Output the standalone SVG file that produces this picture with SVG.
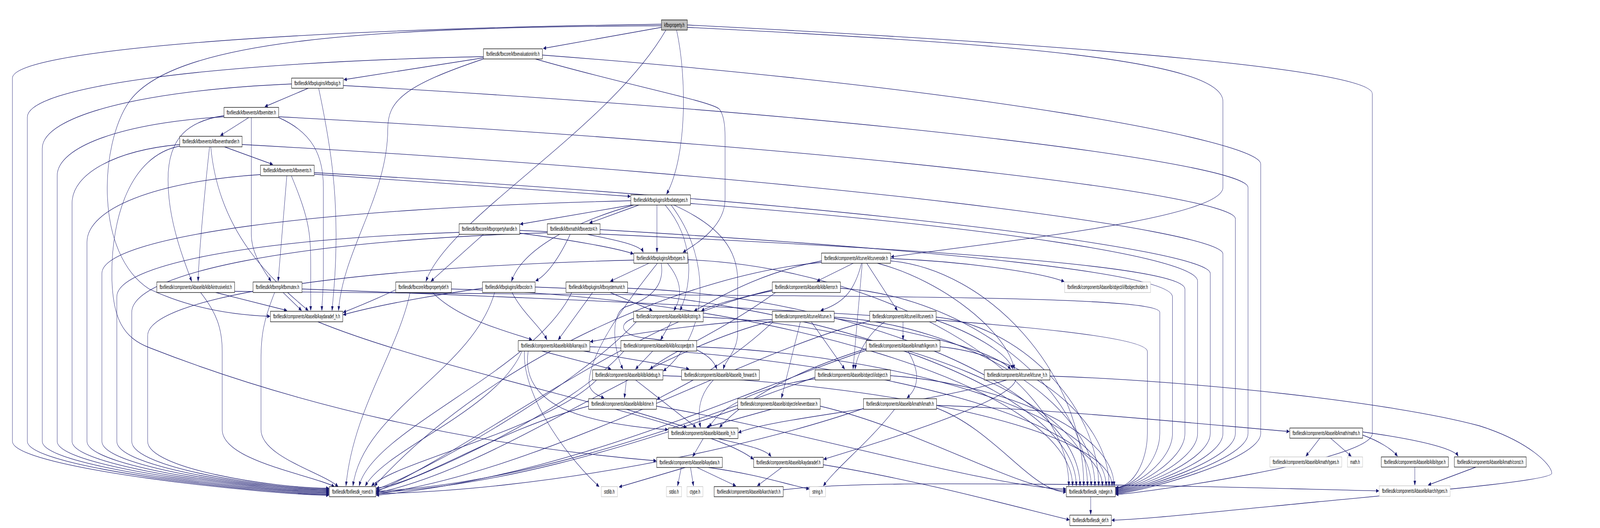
<svg xmlns="http://www.w3.org/2000/svg" width="6437" height="1352" viewBox="0 0 6437 1352" preserveAspectRatio="none">
<style>
@media (max-width: 6400px) { svg { width: 100vw; height: 100vh; } }
.n rect{fill:#fff;stroke:#000;stroke-width:1.3}
.g rect{fill:#fff;stroke:#bfbfbf;stroke-width:1.3}
.r rect{fill:#bfbfbf;stroke:#000;stroke-width:1.3}
text{font-family:'Liberation Sans',Arial,Helvetica,sans-serif;font-size:14px;text-anchor:middle;fill:#000}
#edges path{fill:none;stroke:#191970;stroke-width:1.3;marker-end:url(#a)}
</style>
<defs>
<marker id="a" markerWidth="12" markerHeight="10" refX="11" refY="5" orient="auto" markerUnits="userSpaceOnUse"><path d="M0,0.5 L11,5 L0,9.5 z" fill="#191970" stroke="#191970" stroke-width="1"/></marker>
</defs>
<rect width="6437" height="1352" fill="#fff"/>
<g id="edges">
<path d="M2661,70 L2186,124"/>
<path d="M2679,77 C2450,330 1800,560 1714,720"/>
<path d="M2722,77 C2764,200 2764,400 2682,497"/>
<path d="M2661,66 C1500,70 700,100 520,260 C400,370 380,650 600,740 C800,800 1000,808 1086,810"/>
<path d="M2765,70 C4000,110 4920,150 4920,260 L4920,480 C4920,560 4000,620 3585,658"/>
<path d="M1945,148 L1384,204"/>
<path d="M2154,151 C2500,215 2870,260 2895,280 C2912,295 2917,320 2917,350 L2917,510 C2917,580 2800,625 2748,646"/>
<path d="M1945,151 C1620,220 1560,260 1560,330 C1560,500 1380,640 1362,795"/>
<path d="M1240,226 L1066,273"/>
<path d="M1282,226 C1340,400 1352,500 1352,600 C1352,700 1340,760 1336,795"/>
<path d="M1001,301 L887,347"/>
<path d="M1011,301 L1011,600 C1011,650 1060,690 1090,720"/>
<path d="M901,296 C760,310 676,350 676,460 C676,560 730,650 771,720"/>
<path d="M1121,301 C1260,340 1301,400 1301,480 L1301,700 C1301,750 1295,775 1295,795"/>
<path d="M903,376 L1097,421"/>
<path d="M843,376 C825,480 800,650 797,720"/>
<path d="M848,376 C880,600 1100,720 1240,795"/>
<path d="M723,374 C520,400 450,560 450,700 C450,820 500,865 600,890 C1200,1040 1900,1140 2640,1180"/>
<path d="M1154,450 L1119,720"/>
<path d="M1172,450 C1250,570 1250,600 1250,700 L1250,795"/>
<path d="M1264,446 C1800,470 2300,490 2536,503"/>
<path d="M2643,525 L2643,646"/>
<path d="M2540,525 L2093,574"/>
<path d="M2570,525 L2372,571"/>
<path d="M2550,525 C2300,570 2100,640 2058,720"/>
<path d="M2676,525 C2790,610 2790,720 2736,795"/>
<path d="M2700,525 C2860,660 2860,850 2669,950"/>
<path d="M2711,525 C2900,580 2968,640 2968,720 L2968,850 C2968,900 2920,920 2910,945"/>
<path d="M1945,600 L1734,720"/>
<path d="M2091,597 C2300,615 2480,635 2548,650"/>
<path d="M2364,600 C2450,612 2575,625 2588,646"/>
<path d="M2294,600 C2250,660 2200,705 2155,719"/>
<path d="M2611,674 L2456,720"/>
<path d="M2685,674 C2745,720 2745,760 2711,795"/>
<path d="M2660,674 C2675,730 2620,765 2520,785 C2450,800 2470,900 2506,945"/>
<path d="M2645,674 C2500,790 2380,900 2370,975 C2366,1000 2400,1012 2430,1019"/>
<path d="M3433,674 L3287,720"/>
<path d="M3466,674 C3440,740 3400,775 3302,795"/>
<path d="M3487,674 L3610,795"/>
<path d="M3469,674 L3432,945"/>
<path d="M3530,674 C3800,720 4050,850 4081,945"/>
<path d="M3583,662 C3900,670 4200,700 4281,721"/>
<path d="M3305,668 C3050,700 2900,760 2793,796"/>
<path d="M3120,749 C2900,850 2700,900 2615,945"/>
<path d="M3107,742 C3000,760 2860,780 2822,796"/>
<path d="M1279,824 C1800,960 2850,1080 3031,1176"/>
<path d="M2700,824 L2658,870"/>
<path d="M2549,815 C2480,830 2500,860 2600,866 C2750,876 2860,900 2884,945"/>
<path d="M3264,824 L3398,945"/>
<path d="M3220,824 L3144,1019"/>
<path d="M3356,815 C3700,850 4000,900 4066,945"/>
<path d="M3107,818 C2800,828 2500,860 2375,875"/>
<path d="M3110,824 C2900,950 2700,1000 2643,1023"/>
<path d="M3633,824 L3633,870"/>
<path d="M3560,824 C3500,850 3450,900 3440,945"/>
<path d="M3766,820 C3900,850 4050,900 4075,945"/>
<path d="M2180,899 L2458,945"/>
<path d="M2348,899 L2772,945"/>
<path d="M2125,899 C2110,960 2150,1010 2260,1045 C2400,1085 2600,1097 2687,1100"/>
<path d="M2110,899 C2100,1000 2250,1150 2410,1246"/>
<path d="M2626,899 L2557,945"/>
<path d="M3653,899 C3700,950 3700,990 3649,1019"/>
<path d="M3485,893 C3200,950 3000,1020 2895,1094"/>
<path d="M2520,973 L2512,1019"/>
<path d="M2557,973 L2800,1094"/>
<path d="M2870,973 C2815,1010 2805,1050 2818,1094"/>
<path d="M3279,970 C3050,990 2900,1040 2853,1094"/>
<path d="M4086,973 C4070,1030 3500,1140 3314,1176"/>
<path d="M4224,963 C4800,975 5600,1030 5950,1090 C6150,1130 6243,1190 6243,1212 C6243,1230 5800,1255 5300,1285 C4900,1310 4600,1330 4473,1332"/>
<path d="M4050,973 C3700,1040 3100,1070 2971,1108"/>
<path d="M2520,1048 L2762,1094"/>
<path d="M3103,1048 L2843,1094"/>
<path d="M3768,1038 C4300,1050 4900,1090 5187,1105"/>
<path d="M3599,1048 C3500,1130 3360,1200 3313,1244"/>
<path d="M2829,1123 L2787,1169"/>
<path d="M2889,1123 C3000,1140 3080,1150 3102,1169"/>
<path d="M2757,1197 L2491,1247"/>
<path d="M2741,1197 L2726,1244"/>
<path d="M2778,1197 L2790,1244"/>
<path d="M2804,1197 L2960,1244"/>
<path d="M2850,1197 C3050,1215 3150,1238 3255,1252"/>
<path d="M3145,1197 L3047,1244"/>
<path d="M3312,1190 C3700,1230 4100,1300 4302,1331"/>
<path d="M3151,1254 C3400,1236 3800,1238 4200,1240 C4800,1243 5200,1252 5547,1257"/>
<path d="M5310,1122 L5254,1168"/>
<path d="M5353,1122 L5436,1168"/>
<path d="M5482,1114 C5550,1130 5600,1150 5622,1168"/>
<path d="M5482,1106 C5700,1125 5850,1148 5866,1168"/>
<path d="M5692,1196 L5692,1242"/>
<path d="M5938,1196 L5746,1242"/>
<path d="M4388,1272 L4388,1317"/>
<path d="M1592,742 C1500,770 1420,790 1381,800"/>
<path d="M1941,738 C1700,760 1500,785 1381,806"/>
<path d="M1740,749 C1850,820 2050,850 2140,870"/>
<path d="M2060,749 C2100,800 2180,840 2200,870"/>
<path d="M2455,749 L2624,795"/>
<path d="M2384,749 L2246,870"/>
<path d="M868,749 L1154,795"/>
<path d="M1139,749 L1213,795"/>
<path d="M807,749 C870,800 894,840 894,900 L894,1100 C894,1180 1250,1215 1345,1246"/>
<path d="M1105,749 C1060,820 1050,860 1050,920 L1050,1100 C1050,1170 1300,1210 1360,1246"/>
<path d="M2661,62 C1094,76 50,131 50,200 L50,1130 C50,1200 1100,1268 1323,1268"/>
<path d="M1945,145 C844,160 110,222 110,300 L110,1130 C110,1200 1100,1266 1323,1266"/>
<path d="M1173,215 C571,231 170,297 170,380 L170,1130 C170,1200 1100,1264 1323,1264"/>
<path d="M901,299 C498,314 230,375 230,450 L230,1130 C230,1200 1100,1262 1323,1262"/>
<path d="M723,370 C463,385 290,445 290,520 L290,1130 C290,1200 1100,1260 1323,1260"/>
<path d="M1048,447 C629,464 350,534 350,620 L350,1130 C350,1200 1100,1258 1323,1258"/>
<path d="M2538,514 C1261,533 410,607 410,700 L410,1130 C410,1200 1100,1256 1323,1256"/>
<path d="M1847,595 C1021,612 470,678 470,760 L470,1130 C470,1200 1100,1254 1323,1254"/>
<path d="M2202,596 C1199,616 530,698 530,800 L530,1130 C530,1200 1100,1252 1323,1252"/>
<path d="M2550,666 C1376,685 594,763 594,860 L594,1130 C594,1200 1100,1250 1323,1250"/>
<path d="M1650,749 C1600,900 1420,1050 1392,1244"/>
<path d="M1990,749 C1900,950 1460,1050 1420,1244"/>
<path d="M2300,749 C2150,950 1500,1100 1445,1244"/>
<path d="M2100,899 C2000,1050 1550,1150 1470,1244"/>
<path d="M2400,973 C2200,1100 1600,1180 1495,1244"/>
<path d="M2368,1040 C2000,1100 1700,1235 1514,1250"/>
<path d="M2560,824 C2300,1000 1700,1210 1514,1253"/>
<path d="M2510,899 C2300,1050 1700,1225 1514,1256"/>
<path d="M3305,672 C2800,700 2000,900 1507,1244"/>
<path d="M3107,745 C2600,800 1900,1150 1514,1259"/>
<path d="M3107,822 C2600,900 2000,1200 1514,1262"/>
<path d="M3499,822 C3000,900 2200,1205 1514,1265"/>
<path d="M3485,897 C3000,1000 2300,1220 1514,1268"/>
<path d="M3279,966 C2900,1050 2200,1235 1514,1258"/>
<path d="M2968,1046 C2500,1150 2000,1245 1514,1261"/>
<path d="M3474,1046 C3000,1150 2200,1255 1514,1264"/>
<path d="M2765,64 C4419,117 5521,180 5521,240 L5521,1110 C5521,1180 4560,1266 4489,1266"/>
<path d="M2182,141 C3916,225 5072,360 5072,420 L5072,1110 C5072,1180 4560,1264 4489,1264"/>
<path d="M1381,219 C3565,297 5021,420 5021,480 L5021,1110 C5021,1180 4560,1262 4489,1262"/>
<path d="M1121,299 C3430,377 4970,500 4970,560 L4970,1110 C4970,1180 4560,1260 4489,1260"/>
<path d="M974,370 C3342,454 4920,590 4920,650 L4920,1110 C4920,1180 4560,1258 4489,1258"/>
<path d="M1264,442 C3427,519 4869,640 4869,700 L4869,1110 C4869,1180 4560,1256 4489,1256"/>
<path d="M2778,521 C4002,581 4818,660 4818,720 L4818,1110 C4818,1180 4560,1254 4489,1254"/>
<path d="M2091,590 C3697,635 4767,680 4767,740 L4767,1110 C4767,1180 4560,1252 4489,1252"/>
<path d="M2414,588 C3796,640 4717,700 4717,760 L4717,1110 C4717,1180 4560,1250 4489,1250"/>
<path d="M944,746 C3177,762 4666,750 4666,800 L4666,1110 C4666,1180 4560,1249 4489,1249"/>
<path d="M1215,740 C3256,788 4616,840 4616,900 L4616,1110 C4616,1180 4560,1248 4489,1248"/>
<path d="M2767,665 C3530,685 4300,950 4300,1244"/>
<path d="M1816,740 C3060,760 4315,990 4315,1244"/>
<path d="M2153,735 C3240,755 4330,990 4330,1244"/>
<path d="M2525,738 C3430,758 4345,990 4345,1244"/>
<path d="M3583,668 C3970,690 4360,950 4360,1244"/>
<path d="M3381,738 C3880,758 4375,990 4375,1244"/>
<path d="M2829,812 C3610,832 4390,1030 4390,1244"/>
<path d="M3356,812 C3880,832 4405,1030 4405,1244"/>
<path d="M3766,812 C4090,832 4420,1030 4420,1244"/>
<path d="M2373,888 C3400,908 4435,1066 4435,1244"/>
<path d="M2803,888 C3630,908 4450,1066 4450,1244"/>
<path d="M3782,888 C4120,908 4462,1066 4462,1244"/>
<path d="M2667,962 C3570,982 4474,1103 4474,1244"/>
<path d="M3582,962 C4030,982 4482,1103 4482,1244"/>
<path d="M2641,1040 C3200,1100 4000,1250 4288,1252"/>
<path d="M3300,1040 C3700,1100 4100,1255 4288,1256"/>
<path d="M3768,1045 C4000,1100 4150,1258 4288,1260"/>
</g>
<g id="node-P" class="r"><rect x="2661" y="51" width="104" height="26"/><text x="2713" y="69" textLength="82" lengthAdjust="spacingAndGlyphs">kfbxproperty.h</text></g>
<g id="node-EI" class="n"><rect x="1945" y="125" width="237" height="26"/><text x="2063.5" y="143" textLength="215" lengthAdjust="spacingAndGlyphs">fbxfilesdk/fbxcore/kfbxevaluationinfo.h</text></g>
<g id="node-PL" class="n"><rect x="1173" y="200" width="208" height="26"/><text x="1277" y="218" textLength="186" lengthAdjust="spacingAndGlyphs">fbxfilesdk/kfbxplugins/kfbxplug.h</text></g>
<g id="node-EM" class="n"><rect x="901" y="275" width="220" height="26"/><text x="1011" y="293" textLength="198" lengthAdjust="spacingAndGlyphs">fbxfilesdk/kfbxevents/kfbxemitter.h</text></g>
<g id="node-EH" class="n"><rect x="723" y="349" width="251" height="27"/><text x="848.5" y="367" textLength="229" lengthAdjust="spacingAndGlyphs">fbxfilesdk/kfbxevents/kfbxeventhandler.h</text></g>
<g id="node-EV" class="n"><rect x="1048" y="423" width="216" height="27"/><text x="1156" y="441" textLength="194" lengthAdjust="spacingAndGlyphs">fbxfilesdk/kfbxevents/kfbxevents.h</text></g>
<g id="node-DT" class="n"><rect x="2538" y="499" width="240" height="26"/><text x="2658" y="517" textLength="218" lengthAdjust="spacingAndGlyphs">fbxfilesdk/kfbxplugins/kfbxdatatypes.h</text></g>
<g id="node-PH" class="n"><rect x="1847" y="573" width="244" height="27"/><text x="1969" y="591" textLength="222" lengthAdjust="spacingAndGlyphs">fbxfilesdk/fbxcore/kfbxpropertyhandle.h</text></g>
<g id="node-V4" class="n"><rect x="2202" y="573" width="212" height="27"/><text x="2308" y="591" textLength="190" lengthAdjust="spacingAndGlyphs">fbxfilesdk/kfbxmath/kfbxvector4.h</text></g>
<g id="node-TY" class="n"><rect x="2550" y="648" width="217" height="26"/><text x="2658.5" y="666" textLength="195" lengthAdjust="spacingAndGlyphs">fbxfilesdk/kfbxplugins/kfbxtypes.h</text></g>
<g id="node-CN" class="n"><rect x="3305" y="648" width="278" height="26"/><text x="3444" y="666" textLength="256" lengthAdjust="spacingAndGlyphs">fbxfilesdk/components/kfcurve/kfcurvenode.h</text></g>
<g id="node-IL" class="n"><rect x="631" y="722" width="313" height="27"/><text x="787.5" y="740" textLength="291" lengthAdjust="spacingAndGlyphs">fbxfilesdk/components/kbaselib/klib/kintrusivelist.h</text></g>
<g id="node-MU" class="n"><rect x="1018" y="722" width="197" height="27"/><text x="1116.5" y="740" textLength="175" lengthAdjust="spacingAndGlyphs">fbxfilesdk/kfbxmp/kfbxmutex.h</text></g>
<g id="node-PD" class="n"><rect x="1592" y="722" width="224" height="27"/><text x="1704" y="740" textLength="202" lengthAdjust="spacingAndGlyphs">fbxfilesdk/fbxcore/kfbxpropertydef.h</text></g>
<g id="node-CO" class="n"><rect x="1941" y="722" width="212" height="27"/><text x="2047" y="740" textLength="190" lengthAdjust="spacingAndGlyphs">fbxfilesdk/kfbxplugins/kfbxcolor.h</text></g>
<g id="node-SU" class="n"><rect x="2277" y="722" width="248" height="27"/><text x="2401" y="740" textLength="226" lengthAdjust="spacingAndGlyphs">fbxfilesdk/kfbxplugins/kfbxsystemunit.h</text></g>
<g id="node-ER" class="n"><rect x="3107" y="722" width="274" height="27"/><text x="3244" y="740" textLength="252" lengthAdjust="spacingAndGlyphs">fbxfilesdk/components/kbaselib/klib/kerror.h</text></g>
<g id="node-OH" class="g"><rect x="4283" y="722" width="346" height="27"/><text x="4456" y="740" textLength="324" lengthAdjust="spacingAndGlyphs">fbxfilesdk/components/kbaselib/object/i/ifbobjectholder.h</text></g>
<g id="node-AH" class="n"><rect x="1088" y="797" width="291" height="27"/><text x="1233.5" y="815" textLength="269" lengthAdjust="spacingAndGlyphs">fbxfilesdk/components/kbaselib/kaydaradef_h.h</text></g>
<g id="node-ST" class="n"><rect x="2549" y="797" width="280" height="27"/><text x="2689" y="815" textLength="258" lengthAdjust="spacingAndGlyphs">fbxfilesdk/components/kbaselib/klib/kstring.h</text></g>
<g id="node-FC" class="n"><rect x="3107" y="797" width="249" height="27"/><text x="3231.5" y="815" textLength="227" lengthAdjust="spacingAndGlyphs">fbxfilesdk/components/kfcurve/kfcurve.h</text></g>
<g id="node-ET" class="n"><rect x="3499" y="797" width="267" height="27"/><text x="3632.5" y="815" textLength="245" lengthAdjust="spacingAndGlyphs">fbxfilesdk/components/kfcurve/i/ifcurveeti.h</text></g>
<g id="node-AR" class="n"><rect x="2085" y="872" width="288" height="27"/><text x="2229" y="890" textLength="266" lengthAdjust="spacingAndGlyphs">fbxfilesdk/components/kbaselib/klib/karrayul.h</text></g>
<g id="node-SP" class="n"><rect x="2498" y="872" width="305" height="27"/><text x="2650.5" y="890" textLength="283" lengthAdjust="spacingAndGlyphs">fbxfilesdk/components/kbaselib/klib/kscopedptr.h</text></g>
<g id="node-GE" class="n"><rect x="3485" y="872" width="297" height="27"/><text x="3633.5" y="890" textLength="275" lengthAdjust="spacingAndGlyphs">fbxfilesdk/components/kbaselib/kmath/kgeom.h</text></g>
<g id="node-DB" class="n"><rect x="2384" y="947" width="283" height="26"/><text x="2525.5" y="965" textLength="261" lengthAdjust="spacingAndGlyphs">fbxfilesdk/components/kbaselib/klib/kdebug.h</text></g>
<g id="node-FW" class="n"><rect x="2742" y="947" width="313" height="26"/><text x="2898.5" y="965" textLength="291" lengthAdjust="spacingAndGlyphs">fbxfilesdk/components/kbaselib/kbaselib_forward.h</text></g>
<g id="node-IO" class="n"><rect x="3279" y="947" width="303" height="26"/><text x="3430.5" y="965" textLength="281" lengthAdjust="spacingAndGlyphs">fbxfilesdk/components/kbaselib/object/i/iobject.h</text></g>
<g id="node-CH" class="n"><rect x="3960" y="947" width="264" height="26"/><text x="4092" y="965" textLength="242" lengthAdjust="spacingAndGlyphs">fbxfilesdk/components/kfcurve/kfcurve_h.h</text></g>
<g id="node-TI" class="n"><rect x="2368" y="1021" width="273" height="27"/><text x="2504.5" y="1039" textLength="251" lengthAdjust="spacingAndGlyphs">fbxfilesdk/components/kbaselib/klib/ktime.h</text></g>
<g id="node-EB" class="n"><rect x="2968" y="1021" width="332" height="27"/><text x="3134" y="1039" textLength="310" lengthAdjust="spacingAndGlyphs">fbxfilesdk/components/kbaselib/object/e/keventbase.h</text></g>
<g id="node-KM" class="n"><rect x="3474" y="1021" width="294" height="27"/><text x="3621" y="1039" textLength="272" lengthAdjust="spacingAndGlyphs">fbxfilesdk/components/kbaselib/kmath/kmath.h</text></g>
<g id="node-BH" class="n"><rect x="2689" y="1096" width="280" height="27"/><text x="2829" y="1114" textLength="258" lengthAdjust="spacingAndGlyphs">fbxfilesdk/components/kbaselib/kbaselib_h.h</text></g>
<g id="node-MS" class="n"><rect x="5189" y="1096" width="293" height="26"/><text x="5335.5" y="1114" textLength="271" lengthAdjust="spacingAndGlyphs">fbxfilesdk/components/kbaselib/kmath/maths.h</text></g>
<g id="node-KA" class="n"><rect x="2642" y="1171" width="264" height="26"/><text x="2774" y="1189" textLength="242" lengthAdjust="spacingAndGlyphs">fbxfilesdk/components/kbaselib/kaydara.h</text></g>
<g id="node-AD" class="n"><rect x="3032" y="1171" width="280" height="26"/><text x="3172" y="1189" textLength="258" lengthAdjust="spacingAndGlyphs">fbxfilesdk/components/kbaselib/kaydaradef.h</text></g>
<g id="node-MT" class="g"><rect x="5109" y="1170" width="289" height="26"/><text x="5253.5" y="1188" textLength="267" lengthAdjust="spacingAndGlyphs">fbxfilesdk/components/kbaselib/kmath/types.h</text></g>
<g id="node-MH" class="g"><rect x="5421" y="1170" width="61" height="26"/><text x="5451.5" y="1188" textLength="39" lengthAdjust="spacingAndGlyphs">math.h</text></g>
<g id="node-IT" class="n"><rect x="5557" y="1170" width="270" height="26"/><text x="5692" y="1188" textLength="248" lengthAdjust="spacingAndGlyphs">fbxfilesdk/components/kbaselib/klib/itype.h</text></g>
<g id="node-CS" class="n"><rect x="5851" y="1170" width="289" height="26"/><text x="5995.5" y="1188" textLength="267" lengthAdjust="spacingAndGlyphs">fbxfilesdk/components/kbaselib/kmath/const.h</text></g>
<g id="node-NE" class="n"><rect x="1325" y="1246" width="187" height="26"/><text x="1418.5" y="1264" textLength="165" lengthAdjust="spacingAndGlyphs">fbxfilesdk/fbxfilesdk_nsend.h</text></g>
<g id="node-SL" class="g"><rect x="2419" y="1246" width="65" height="26"/><text x="2451.5" y="1264" textLength="43" lengthAdjust="spacingAndGlyphs">stdlib.h</text></g>
<g id="node-SI" class="g"><rect x="2681" y="1246" width="61" height="26"/><text x="2711.5" y="1264" textLength="39" lengthAdjust="spacingAndGlyphs">stdio.h</text></g>
<g id="node-CT" class="g"><rect x="2764" y="1246" width="64" height="26"/><text x="2796" y="1264" textLength="42" lengthAdjust="spacingAndGlyphs">ctype.h</text></g>
<g id="node-AC" class="n"><rect x="2873" y="1246" width="278" height="26"/><text x="3012" y="1264" textLength="256" lengthAdjust="spacingAndGlyphs">fbxfilesdk/components/kbaselib/karch/arch.h</text></g>
<g id="node-SG" class="g"><rect x="3257" y="1246" width="64" height="26"/><text x="3289" y="1264" textLength="42" lengthAdjust="spacingAndGlyphs">string.h</text></g>
<g id="node-NB" class="n"><rect x="4290" y="1246" width="197" height="26"/><text x="4388.5" y="1264" textLength="175" lengthAdjust="spacingAndGlyphs">fbxfilesdk/fbxfilesdk_nsbegin.h</text></g>
<g id="node-KT" class="g"><rect x="5549" y="1244" width="285" height="27"/><text x="5691.5" y="1262" textLength="263" lengthAdjust="spacingAndGlyphs">fbxfilesdk/components/kbaselib/karch/types.h</text></g>
<g id="node-DF" class="n"><rect x="4304" y="1319" width="167" height="27"/><text x="4387.5" y="1337" textLength="145" lengthAdjust="spacingAndGlyphs">fbxfilesdk/fbxfilesdk_def.h</text></g>
</svg>
